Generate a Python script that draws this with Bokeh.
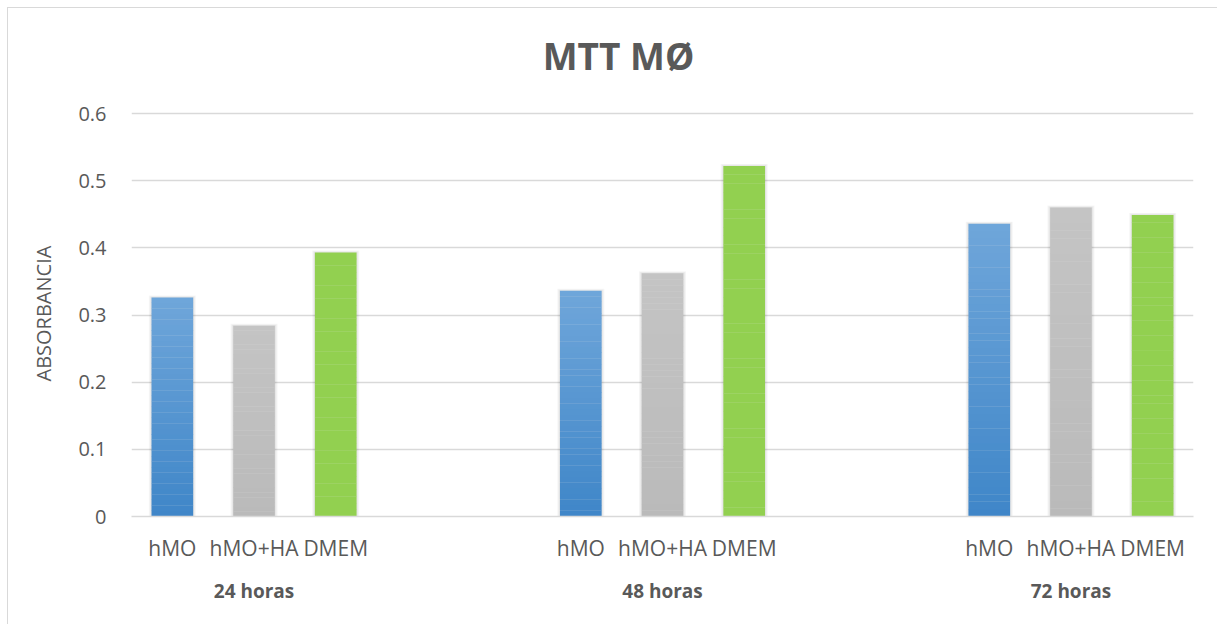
from bokeh.plotting import figure
from bokeh.models import Range1d, FixedTicker, LinearAxis, ColumnDataSource, Label, Title
from bokeh.embed import file_html
from bokeh.resources import INLINE

# ---- data ----
title_text = "MTT MØ"
y_title = "ABSORBANCIA"
groups = ["24 horas", "48 horas", "72 horas"]
series = ["hMO", "hMO+HA", "DMEM"]
hmo = [0.326, 0.336, 0.436]
hmo_ha = [0.284, 0.362, 0.460]
dmem = [0.393, 0.522, 0.449]
y_ticks = [0, 0.1, 0.2, 0.3, 0.4, 0.5, 0.6]
y_labels = ["0", "0.1", "0.2", "0.3", "0.4", "0.5", "0.6"]

# slot layout: 3 bars + 2 empty slots per group
SLOTS_PER_GROUP = 5
BAR_W = 0.51
N_STRIPS = 40
FIG_W, FIG_H = 1210, 617
B_LEFT, B_RIGHT, B_TOP, B_BOTTOM = 120, 25, 20, 109
AXIS_PX = 403            # pixel height of the 0 .. 0.6 span
frame_h = FIG_H - B_TOP - B_BOTTOM
y_max = y_ticks[-1] * frame_h / AXIS_PX   # room above 0.6 holds the title

def slot(g, s):
    return SLOTS_PER_GROUP * g + s

def hex2rgb(h):
    h = h.lstrip("#")
    return tuple(int(h[i:i + 2], 16) for i in (0, 2, 4))

def lerp(c1, c2, t):
    a, b = hex2rgb(c1), hex2rgb(c2)
    return "#%02x%02x%02x" % tuple(int(round(a[i] + (b[i] - a[i]) * t)) for i in range(3))

# gradient (bottom colour, top colour) per series
grads = [("#3f86c8", "#6fa6da"), ("#bababa", "#c4c4c4"), ("#92d050", "#92d050")]
values = [hmo, hmo_ha, dmem]

p = figure(width=FIG_W, height=FIG_H, output_backend="svg", toolbar_location=None,
           x_range=Range1d(-0.5, 12.5), y_range=Range1d(0, y_max),
           min_border_left=B_LEFT, min_border_right=B_RIGHT, min_border_top=B_TOP,
           min_border_bottom=B_BOTTOM)
p.styles = {"margin-left": "7px", "margin-top": "7px",
            "border-top": "1px solid #d9d9d9", "border-left": "1px solid #d9d9d9"}
p.outline_line_color = None
p.background_fill_color = "white"

# title as a label centred on the whole chart (screen units, frame-relative)
p.add_layout(Label(x=607 - B_LEFT, y=frame_h - (47 - B_TOP), x_units="screen", y_units="screen",
                   text=title_text, text_align="center", text_baseline="middle",
                   text_font="Open Sans", text_font_size="37px",
                   text_font_style="bold", text_color="#595959"))

# shadows + gradient bars
sh_x, sh_top = [], []
for s in range(3):
    for g in range(3):
        sh_x.append(slot(g, s))
        sh_top.append(values[s][g])
for k in (3, 2, 1):
    p.vbar(x=sh_x, top=[t + 0.001 * k for t in sh_top], bottom=0,
           width=BAR_W + 0.022 * k, fill_color="black", fill_alpha=0.035,
           line_color=None)

xs, bots, tops, cols = [], [], [], []
for s in range(3):
    c0, c1 = grads[s]
    for g in range(3):
        v = values[s][g]
        for i in range(N_STRIPS):
            xs.append(slot(g, s))
            bots.append(v * i / N_STRIPS)
            tops.append(v * (i + 1) / N_STRIPS + (0.0004 if i < N_STRIPS - 1 else 0))
            cols.append(lerp(c0, c1, (i + 0.5) / N_STRIPS))
src = ColumnDataSource(dict(x=xs, bottom=bots, top=tops, color=cols))
p.vbar(x="x", bottom="bottom", top="top", width=BAR_W, fill_color="color",
       line_color=None, source=src)

# y axis
p.yaxis.ticker = FixedTicker(ticks=y_ticks)
p.yaxis.major_label_overrides = {t: l for t, l in zip(y_ticks, y_labels)}
p.yaxis.axis_line_color = None
p.yaxis.major_tick_line_color = None
p.yaxis.minor_tick_line_color = None
p.yaxis.major_label_standoff = 19
p.yaxis.major_label_text_font = "Open Sans"
p.yaxis.major_label_text_font_size = "20px"
p.yaxis.major_label_text_color = "#595959"

# y-axis title, centred on the 0..0.6 span rather than the whole frame
p.add_layout(Title(text=y_title, align="left", offset=135, standoff=38,
                   text_font="Open Sans", text_font_size="20px",
                   text_font_style="normal", text_color="#595959"), "left")

p.ygrid.ticker = FixedTicker(ticks=y_ticks)
p.ygrid.grid_line_color = "#d9d9d9"
p.ygrid.grid_line_width = 1.3
p.xgrid.grid_line_color = None

# x axis: series labels
sub_ticks = [slot(g, s) for g in range(3) for s in range(3)]
sub_labels = [series[s] for g in range(3) for s in range(3)]
xa = p.xaxis[0]
xa.ticker = FixedTicker(ticks=sub_ticks)
xa.major_label_overrides = {t: l for t, l in zip(sub_ticks, sub_labels)}
xa.axis_line_color = "#d9d9d9"
xa.axis_line_width = 1.5
xa.major_tick_line_color = None
xa.minor_tick_line_color = None
xa.major_label_standoff = 11
xa.major_label_text_font = "Open Sans"
xa.major_label_text_font_size = "21px"
xa.major_label_text_color = "#595959"

# x axis: group labels
grp_ticks = [slot(g, 1) for g in range(3)]
ga = LinearAxis(ticker=FixedTicker(ticks=grp_ticks),
                major_label_overrides={t: l for t, l in zip(grp_ticks, groups)})
ga.axis_line_color = None
ga.major_tick_line_color = None
ga.minor_tick_line_color = None
ga.major_label_standoff = 7
ga.major_label_text_font = "Open Sans"
ga.major_label_text_font_size = "19px"
ga.major_label_text_font_style = "bold"
ga.major_label_text_color = "#595959"
p.add_layout(ga, "below")

open("out.html", "w").write(file_html(p, INLINE))
